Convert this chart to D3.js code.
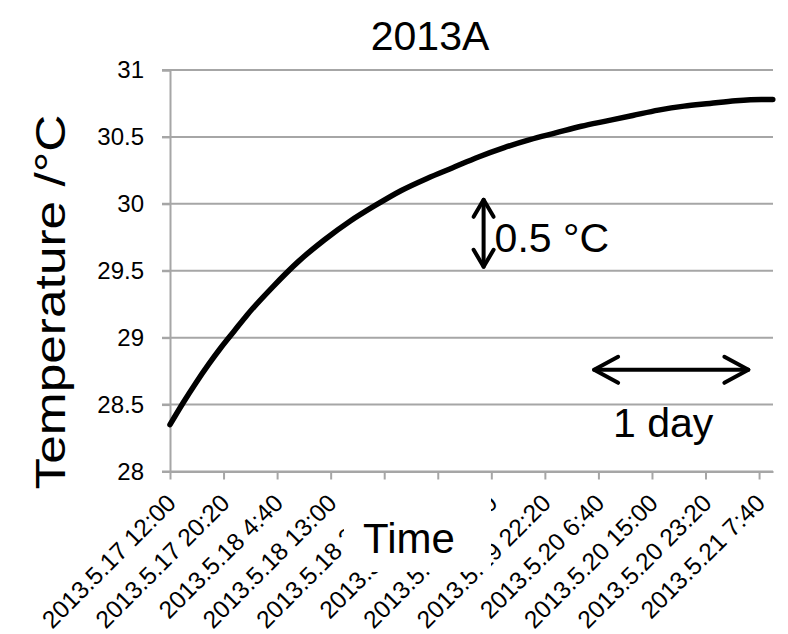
<!DOCTYPE html>
<html>
<head>
<meta charset="utf-8">
<script src="https://cdn.jsdelivr.net/npm/d3@7"></script>
<style>
  body { margin: 0; background: #fff; }
  svg { display: block; }
  text { font-family: "Liberation Sans", Arial, sans-serif; fill: #000; }
</style>
</head>
<body>
<svg id="chart" width="788" height="634"></svg>
<script>
// ---- data ----
const chartTitle = "2013A";
const yAxisTitle = "Temperature /°C";
const xAxisTitle = "Time";
const startLabel = "2013.5.17 12:00";
const endLabel = "2013.5.21 9:50";

// hours elapsed since the start of logging
const elapsedHours = [0, 2, 4, 6, 8, 10, 12, 16, 20, 24, 28, 32, 36, 40, 44, 48, 52, 56, 60, 64, 68, 72, 76, 80, 84, 88, 92, 93.8];
// water temperature (°C)
const temperature = [28.35, 28.51, 28.66, 28.80, 28.93, 29.05, 29.17, 29.38, 29.57, 29.73, 29.87, 29.99, 30.10, 30.19, 30.27, 30.35, 30.42, 30.48, 30.53, 30.58, 30.62, 30.66, 30.70, 30.73, 30.75, 30.77, 30.78, 30.78];

const xTickLabels = [
  "2013.5.17 12:00", "2013.5.17 20:20", "2013.5.18 4:40", "2013.5.18 13:00",
  "2013.5.18 21:20", "2013.5.19 5:40", "2013.5.19 14:00", "2013.5.19 22:20",
  "2013.5.20 6:40", "2013.5.20 15:00", "2013.5.20 23:20", "2013.5.21 7:40"
];
const yTicks = [28, 28.5, 29, 29.5, 30, 30.5, 31];
const yTickLabels = ["28", "28.5", "29", "29.5", "30", "30.5", "31"];

// scale bars
const dayBarStartHour = 66, dayBarHours = 24, dayBarTemp = 28.76, dayBarLabel = "1 day";
const degBarHour = 48.8, degBarBottom = 29.53, degBarSpan = 0.5, degBarLabel = "0.5 °C";

// ---- layout ----
const svg = d3.select("#chart");
const margin = { left: 170, right: 15, top: 70, bottom: 162.5 };
const W = 788, H = 634;
const parse = d3.timeParse("%Y.%m.%d %H:%M");
const t0 = parse(startLabel), t1 = parse(endLabel);
const hourToDate = h => new Date(t0.getTime() + h * 3600e3);

const x = d3.scaleTime().domain([t0, t1]).range([margin.left, W - margin.right]);
const y = d3.scaleLinear().domain([28, 31]).range([H - margin.bottom, margin.top]);

const gridColor = "#a6a6a6";

// horizontal gridlines
svg.append("g").selectAll("line").data(yTicks).join("line")
  .attr("x1", margin.left - 8).attr("x2", W - margin.right)
  .attr("y1", d => y(d)).attr("y2", d => y(d))
  .attr("stroke", gridColor).attr("stroke-width", 2);

// y axis
const yAxis = svg.append("g").attr("transform", `translate(${margin.left},0)`)
  .call(d3.axisLeft(y).tickValues(yTicks).tickSize(8).tickPadding(18)
    .tickFormat((d, i) => yTickLabels[i]));
yAxis.select(".domain").attr("stroke", gridColor).attr("stroke-width", 2);
yAxis.selectAll(".tick line").attr("stroke", gridColor).attr("stroke-width", 2);
yAxis.selectAll(".tick text").style("font-size", "24px").attr("fill", "#000");

// x axis
const xTickDates = xTickLabels.map(parse);
const xAxis = svg.append("g").attr("transform", `translate(0,${y(28)})`)
  .call(d3.axisBottom(x).tickValues(xTickDates).tickSizeInner(8).tickSizeOuter(0)
    .tickFormat((d, i) => xTickLabels[i]));
xAxis.select(".domain").attr("stroke", gridColor).attr("stroke-width", 2);
xAxis.selectAll(".tick line").attr("stroke", gridColor).attr("stroke-width", 2);
xAxis.selectAll(".tick text")
  .style("font-size", "24.5px")
  .attr("text-anchor", "end")
  .attr("dy", 0).attr("y", 0)
  .attr("transform", "translate(7,33) rotate(-45)");

// temperature curve
const series = elapsedHours.map((h, i) => ({ t: hourToDate(h), v: temperature[i] }));
svg.append("path").datum(series)
  .attr("fill", "none").attr("stroke", "#000").attr("stroke-width", 5.5)
  .attr("stroke-linejoin", "round").attr("stroke-linecap", "round")
  .attr("d", d3.line().x(d => x(d.t)).y(d => y(d.v)).curve(d3.curveMonotoneX));

// axis title "Time" sits on a white box over the rotated tick labels
svg.append("rect").attr("x", 344).attr("y", 481).attr("width", 147).attr("height", 91).attr("fill", "#fff");
svg.append("text").attr("x", 409).attr("y", 553).attr("text-anchor", "middle")
  .style("font-size", "42px").text(xAxisTitle);

// y axis title
svg.append("text").attr("transform", "translate(65,302) rotate(-90)")
  .attr("text-anchor", "middle").style("font-size", "42px")
  .attr("textLength", 375).attr("lengthAdjust", "spacingAndGlyphs")
  .text(yAxisTitle);

// chart title
svg.append("text").attr("x", 430).attr("y", 50).attr("text-anchor", "middle")
  .style("font-size", "41px")
  .text(chartTitle);

// scale bar: 0.5 °C
const ann = svg.append("g").attr("stroke", "#000").attr("stroke-width", 4)
  .attr("stroke-linecap", "round").attr("stroke-linejoin", "round").attr("fill", "none");
const vx = x(hourToDate(degBarHour)), vTop = y(degBarBottom + degBarSpan), vBot = y(degBarBottom);
ann.append("line").attr("x1", vx).attr("x2", vx).attr("y1", vTop).attr("y2", vBot);
ann.append("path").attr("d", `M${vx - 10},${vTop + 17}L${vx},${vTop}L${vx + 10},${vTop + 17}`);
ann.append("path").attr("d", `M${vx - 10},${vBot - 17}L${vx},${vBot}L${vx + 10},${vBot - 17}`);
svg.append("text").attr("x", vx + 11).attr("y", 252).style("font-size", "41px").text(degBarLabel);

// scale bar: 1 day
const hL = x(hourToDate(dayBarStartHour)), hR = x(hourToDate(dayBarStartHour + dayBarHours)), hy = y(dayBarTemp);
ann.append("line").attr("x1", hL).attr("x2", hR).attr("y1", hy).attr("y2", hy);
ann.append("path").attr("d", `M${hL + 24},${hy - 13}L${hL},${hy}L${hL + 24},${hy + 13}`);
ann.append("path").attr("d", `M${hR - 24},${hy - 13}L${hR},${hy}L${hR - 24},${hy + 13}`);
svg.append("text").attr("x", 613).attr("y", 437).style("font-size", "41px").text(dayBarLabel);
</script>
</body>
</html>
